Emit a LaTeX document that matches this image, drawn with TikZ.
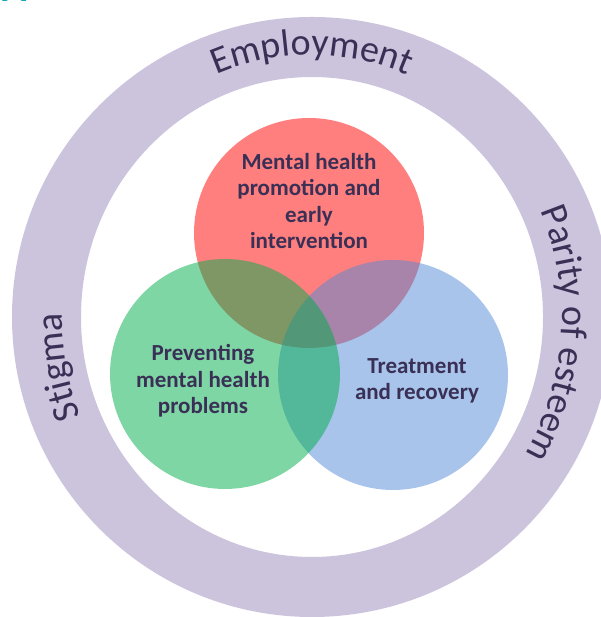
\documentclass[tikz,border=0pt]{standalone}
\usepackage{fontspec}
\setmainfont{Carlito}
\usetikzlibrary{decorations.text}
\definecolor{ringlilac}{RGB}{204,195,221}
\definecolor{labelink}{RGB}{58,48,86}
\definecolor{promored}{RGB}{255,0,0}
\definecolor{treatblue}{RGB}{81,137,213}
\definecolor{preventgreen}{RGB}{0,173,75}
\definecolor{panelcyan}{RGB}{20,170,185}

\begin{document}
\begin{tikzpicture}[x=1pt,y=1pt,
  venn/.style={circle,minimum size=230pt,inner sep=0pt,fill opacity=0.5},
  venntext/.style={font=\fontsize{23}{26.5}\selectfont\bfseries,text=labelink,align=center},
  ringtext/.style={decorate,decoration={text along path,text align=center,
    text color=labelink,text={|\fontsize{38}{38}\selectfont|#1}}}]
\useasboundingbox (0,0) rectangle (600,617);
\node[anchor=base west,inner sep=0pt,text=panelcyan,font=\fontsize{40}{40}\selectfont\bfseries] (panel) at (2,615.5) {A};
% outer ring
\coordinate (hub) at (312,300);
\fill[ringlilac,even odd rule] (hub) circle (300) (hub) ellipse (231 and 240);
\path[ringtext=Employment] ([shift={(150:250 and 262)}]hub) arc[start angle=150,end angle=30,x radius=250,y radius=262];
\path[ringtext=Stigma] ([shift={(250:250 and 262)}]hub) arc[start angle=250,end angle=132,x radius=250,y radius=262];
\path[ringtext=Parity of esteem] ([shift={(59:250 and 262)}]hub) arc[start angle=59,end angle=-67,x radius=250,y radius=262];
% the three circles
\node[venn,fill=promored] (promo) at (309,384) {};
\node[venn,fill=treatblue] (treat) at (393,242) {};
\node[venn,fill=preventgreen] (prevent) at (225,243) {};
\node[venntext] (promolabel) at (309,416) {Mental health\\promotion and\\early\\intervention};
\node[venntext] (preventlabel) at (203,236) {Preventing\\mental health\\problems};
\node[venntext] (treatlabel) at (417,236) {Treatment\\and recovery};
\end{tikzpicture}
\end{document}
